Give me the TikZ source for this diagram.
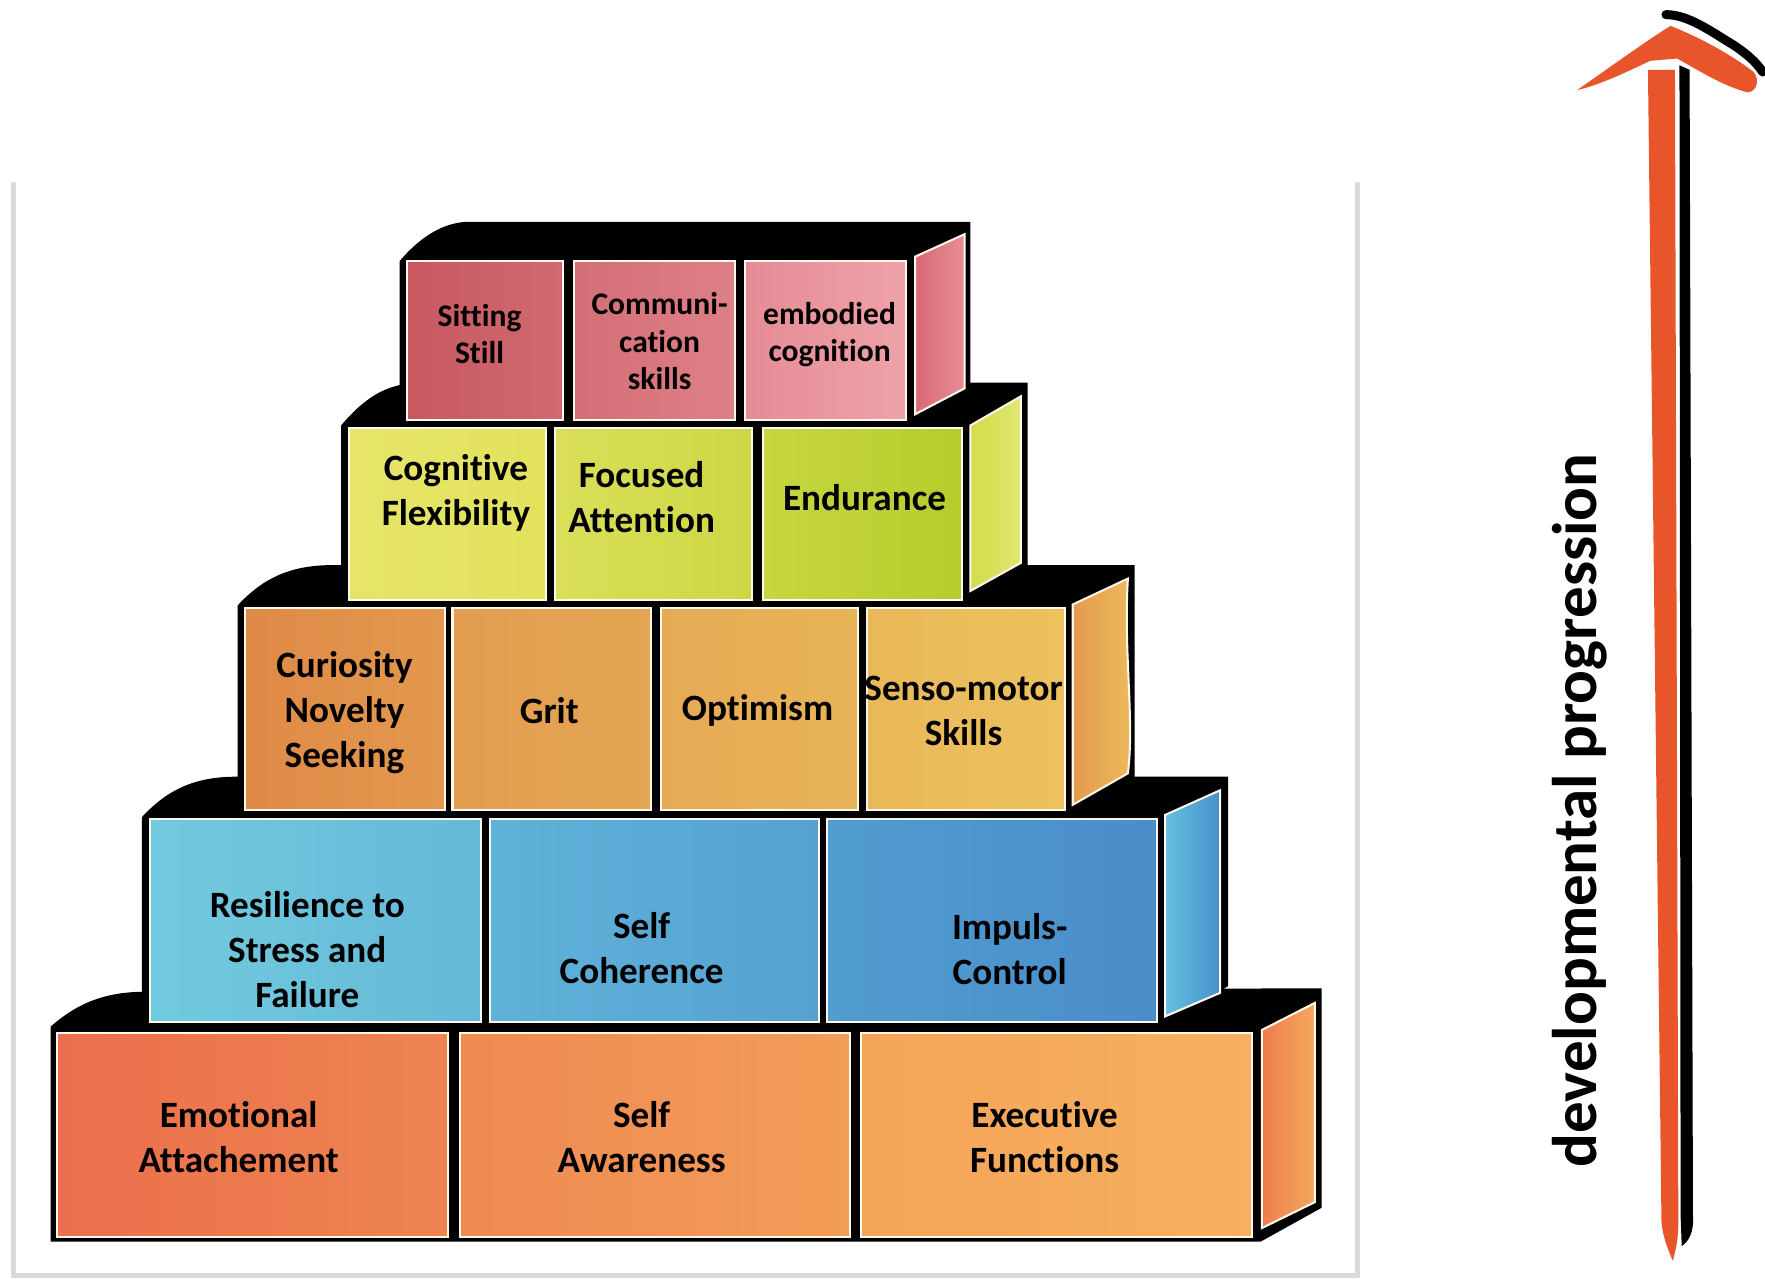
\documentclass[tikz,border=0pt]{standalone}
\usepackage{fontspec}
\setmainfont[Ligatures=NoCommon]{Carlito}
\definecolor{c11l}{HTML}{EB6F4C}\definecolor{c11r}{HTML}{EE8451}
\definecolor{c12l}{HTML}{EF8A52}\definecolor{c12r}{HTML}{F29D58}
\definecolor{c13l}{HTML}{F4A458}\definecolor{c13r}{HTML}{F6B060}
\definecolor{s1l}{HTML}{EE7D4E}\definecolor{s1r}{HTML}{F4A85C}
\definecolor{c21l}{HTML}{72CADE}\definecolor{c21r}{HTML}{64B9D8}
\definecolor{c22l}{HTML}{5FB2D9}\definecolor{c22r}{HTML}{56A1D1}
\definecolor{c23l}{HTML}{519CD1}\definecolor{c23r}{HTML}{4A8DC9}
\definecolor{s2l}{HTML}{62C0E0}\definecolor{s2r}{HTML}{4B8FCB}
\definecolor{c31l}{HTML}{DF8A47}\definecolor{c31r}{HTML}{E3984E}
\definecolor{c32l}{HTML}{E29D50}\definecolor{c32r}{HTML}{E4A653}
\definecolor{c33l}{HTML}{E6AA55}\definecolor{c33r}{HTML}{E8B458}
\definecolor{c34l}{HTML}{E9B858}\definecolor{c34r}{HTML}{ECC15E}
\definecolor{s3l}{HTML}{E49A4E}\definecolor{s3r}{HTML}{EDBC5C}
\definecolor{c41l}{HTML}{E6E56A}\definecolor{c41r}{HTML}{E2E25C}
\definecolor{c42l}{HTML}{DADF58}\definecolor{c42r}{HTML}{CDD746}
\definecolor{c43l}{HTML}{C6D640}\definecolor{c43r}{HTML}{B7CC2C}
\definecolor{s4l}{HTML}{D2DC48}\definecolor{s4r}{HTML}{E2E672}
\definecolor{c51l}{HTML}{C85860}\definecolor{c51r}{HTML}{D06A70}
\definecolor{c52l}{HTML}{D46E76}\definecolor{c52r}{HTML}{DE8088}
\definecolor{c53l}{HTML}{E58C96}\definecolor{c53r}{HTML}{EFA2A9}
\definecolor{s5l}{HTML}{D86A74}\definecolor{s5r}{HTML}{E88C96}
\definecolor{arrorange}{HTML}{E8552A}
\definecolor{framegray}{HTML}{DADADA}
\definecolor{edgewhite}{HTML}{FFF8EC}
\newcommand{\blk}[7]{%
  \pgfmathsetmacro\bcx{(#2+#4)/2}\pgfmathsetmacro\bcy{(#3+#5)/2}%
  \pgfmathsetmacro\bww{(#4-#2)*0.5}\pgfmathsetmacro\bhh{(#5-#3)*0.5}%
  \node[blockface, minimum width=\bww pt, minimum height=\bhh pt,
        left color=#6, right color=#7] (#1) at (\bcx,\bcy) {};}
\begin{document}
\begin{tikzpicture}[x=0.5pt,y=-0.5pt,
  blockface/.style={draw=edgewhite, line width=0.9pt, rectangle, inner sep=0pt},
  sidestyle/.style={draw=edgewhite, line width=0.9pt},
  lbl/.style={align=center, font=\bfseries\fontsize{16.5}{20}\selectfont, inner sep=0pt},
  lbls/.style={align=center, font=\bfseries\fontsize{14}{16.5}\selectfont, inner sep=0pt},
  silhouette/.style={fill=black}]
\useasboundingbox (0,0) rectangle (1568,1136);
% frame
\draw[framegray, line width=2pt] (12,162) -- (12,1133) -- (1206,1133) -- (1206,162);
% black silhouettes
\fill[silhouette] (45,1103) -- (45,912) .. controls (70,890) and (95,881) .. (130,881) -- (1174,878) -- (1174,1073) -- (1120,1103) -- cycle;
\fill[silhouette] (126,912) -- (126,726) .. controls (150,700) and (175,690) .. (210,690) -- (1091,690) -- (1091,876) -- (1038,910) -- cycle;
\fill[silhouette] (211,724) -- (211,538) .. controls (235,512) and (260,502) .. (296,502) -- (1008,502) -- (1008,690) -- (955,722) -- cycle;
\fill[silhouette] (303,537) -- (303,378) .. controls (325,352) and (345,340) .. (375,340) -- (913,340) -- (913,503) -- (864,530) -- cycle;
\fill[silhouette] (355,377) -- (355,232) .. controls (372,212) and (392,198) .. (415,197) -- (862,197) -- (862,350) -- (815,372) -- cycle;
% side faces
\shadedraw[sidestyle, left color=s1l, right color=s1r] (1121,915) -- (1168,891) -- (1168,1068) -- (1121,1091) -- cycle;
\shadedraw[sidestyle, left color=s2l, right color=s2r] (1035,724) -- (1084,702) -- (1084,882) -- (1035,903) -- cycle;
\shadedraw[sidestyle, left color=s3l, right color=s3r] (953,537) -- (1002,514) .. controls (998,580) and (1008,640) .. (1002,687) -- (953,715) -- cycle;
\shadedraw[sidestyle, left color=s4l, right color=s4r] (862,378) -- (907,352) -- (907,500) -- (862,525) -- cycle;
\shadedraw[sidestyle, left color=s5l, right color=s5r] (813,228) -- (857,208) -- (857,345) -- (813,368) -- cycle;
% row 1
\blk{b11}{51}{918}{398}{1099}{c11l}{c11r}
\blk{b12}{409}{918}{755}{1099}{c12l}{c12r}
\blk{b13}{765}{918}{1112}{1099}{c13l}{c13r}
% row 2
\blk{b21}{133}{728}{427}{908}{c21l}{c21r}
\blk{b22}{435}{728}{728}{908}{c22l}{c22r}
\blk{b23}{735}{728}{1028}{908}{c23l}{c23r}
% row 3
\blk{b31}{218}{540}{395}{720}{c31l}{c31r}
\blk{b32}{402}{540}{578}{720}{c32l}{c32r}
\blk{b33}{587}{540}{762}{720}{c33l}{c33r}
\blk{b34}{770}{540}{946}{720}{c34l}{c34r}
% row 4
\blk{b41}{310}{380}{485}{533}{c41l}{c41r}
\blk{b42}{493}{380}{668}{533}{c42l}{c42r}
\blk{b43}{678}{380}{855}{533}{c43l}{c43r}
% row 5
\blk{b51}{362}{232}{500}{373}{c51l}{c51r}
\blk{b52}{510}{232}{653}{373}{c52l}{c52r}
\blk{b53}{662}{232}{805}{373}{c53l}{c53r}
% labels
\node[lbl] (t11) at (212,1010) {Emotional\\Attachement};
\node[lbl] (t12) at (570,1010) {Self\\Awareness};
\node[lbl] (t13) at (928,1010) {Executive\\Functions};
\node[lbl] (t21) at (273,844) {Resilience to\\Stress and\\Failure};
\node[lbl] (t22) at (570,842) {Self\\Coherence};
\node[lbl] (t23) at (897,843) {Impuls-\\Control};
\node[lbl] (t31) at (306,633) {Curiosity\\Novelty\\Seeking};
\node[lbl] (t32) at (488,631) {Grit};
\node[lbl] (t33) at (673,631) {Optimism};
\node[lbl] (t34) at (856,632) {Senso-motor\\Skills};
\node[lbl] (t41) at (405,438) {Cognitive\\Flexibility};
\node[lbl] (t42) at (570,442) {Focused\\Attention};
\node[lbl] (t43) at (768,442) {Endurance};
\node[lbls] (t51) at (426,297) {Sitting\\Still};
\node[lbls] (t52) at (586,303) {Communi-\\cation\\skills};
\node[lbls] (t53) at (737,297) {embodied\\cognition};
% arrow
\fill[black] (1492,58) -- (1501,62) -- (1504,1080) .. controls (1505,1095) and (1500,1103) .. (1494,1107) -- (1493,1080) -- cycle;
\fill[arrorange] (1464,62) -- (1488,62) -- (1491,1085) .. controls (1491,1100) and (1489,1110) .. (1486,1120) .. controls (1481,1108) and (1477,1098) .. (1476,1085) -- cycle;
\draw[black, line width=4pt, line cap=round] (1480,13) .. controls (1500,13) and (1520,28) .. (1540,40) .. controls (1552,48) and (1560,55) .. (1566,64);
\fill[arrorange] (1401,80) .. controls (1430,60) and (1460,38) .. (1484,23)
  .. controls (1512,34) and (1540,50) .. (1558,64)
  .. controls (1564,72) and (1560,82) .. (1552,82)
  .. controls (1530,76) and (1508,62) .. (1490,52) -- (1466,54)
  .. controls (1445,64) and (1420,76) .. cycle;
\node[rotate=90, inner sep=0pt, font=\bfseries\fontsize{28}{30}\selectfont] (dp) at (1403,720) {developmental progression};
\end{tikzpicture}
\end{document}
